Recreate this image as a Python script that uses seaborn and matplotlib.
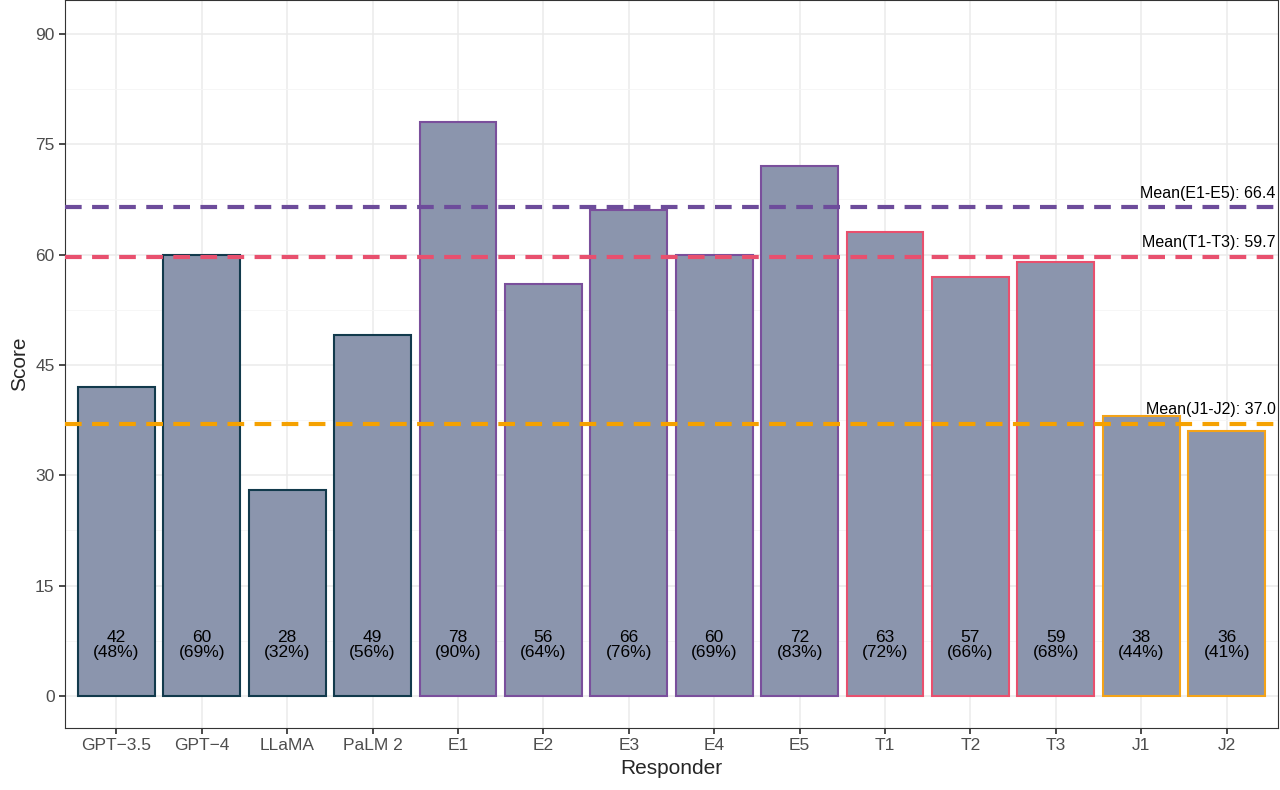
import matplotlib
matplotlib.use("Agg")
import matplotlib.pyplot as plt
import seaborn as sns
import pandas as pd
import numpy as np

responders = ["GPT\u22123.5", "GPT\u22124", "LLaMA", "PaLM 2", "E1", "E2", "E3", "E4", "E5", "T1", "T2", "T3", "J1", "J2"]
scores = [42, 60, 28, 49, 78, 56, 66, 60, 72, 63, 57, 59, 38, 36]
groups = ["LLM"] * 4 + ["E"] * 5 + ["T"] * 3 + ["J"] * 2
max_score = 87
means = {"E": ("Mean(E1-E5): 66.4", 66.4), "T": ("Mean(T1-T3): 59.7", 59.7), "J": ("Mean(J1-J2): 37.0", 37.0)}
edge_colors = {"LLM": "#123a4c", "E": "#7a4f9c", "T": "#e8506e", "J": "#f4a318"}
line_colors = {"E": "#6d4c9b", "T": "#e8506e", "J": "#f5a100"}

df = pd.DataFrame({"Responder": responders, "Score": scores, "Group": groups})

sns.set_theme(style="whitegrid")
plt.rcParams['font.family'] = ['Liberation Sans', 'DejaVu Sans']
fig = plt.figure(figsize=(12.8, 7.9), dpi=100)
ax = fig.add_axes([65/1280, 62/790, 1213/1280, 728/790])

sns.barplot(data=df, x="Responder", y="Score", color="#8b95ad", saturation=1, width=0.9, ax=ax, zorder=2)
for patch, g in zip(ax.patches, groups):
    patch.set_edgecolor(edge_colors[g])
    patch.set_linewidth(1.5)
    patch.set_facecolor("#8b95ad")

for i, s in enumerate(scores):
    ax.text(i, 6.9, f"{s}\n({round(s/max_score*100)}%)", ha="center", va="center", fontsize=12.5, color="black", zorder=4, linespacing=1.0)

ax.set_xlim(-0.6, len(responders) - 0.4)
ax.set_ylim(-4.35, 94.6)
for g, (lab, m) in means.items():
    ax.axhline(m, color=line_colors[g], ls=(0, (4, 2.5)), lw=3, zorder=3)
    ax.text(len(responders) - 0.43, m + 0.9, lab, ha="right", va="bottom", fontsize=11.5, color="black", zorder=4)

ax.set_yticks([0, 15, 30, 45, 60, 75, 90])
ax.set_yticks([7.5, 22.5, 37.5, 52.5, 67.5, 82.5], minor=True)
ax.grid(True, which="major", color="#ebebeb", lw=1.1, zorder=0)
ax.grid(True, which="minor", axis="y", color="#f5f5f5", lw=0.6, zorder=0)
ax.set_axisbelow(True)
for sp in ax.spines.values():
    sp.set_color("#333333"); sp.set_linewidth(0.8)
ax.tick_params(axis="both", which="major", length=4, color="#333333", labelsize=12.5, labelcolor="#4d4d4d", left=True, bottom=True)
ax.set_xlabel("Responder", fontsize=15)
ax.set_ylabel("Score", fontsize=15)
fig.savefig("out.png", dpi=100)
